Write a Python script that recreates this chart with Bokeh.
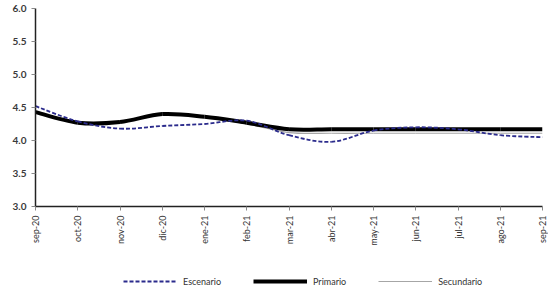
import numpy as np
from bokeh.plotting import figure
from bokeh.layouts import column
from bokeh.models import Range1d, Legend, LegendItem, ColumnDataSource, FixedTicker
from bokeh.embed import file_html
from bokeh.resources import INLINE

months = ["sep-20", "oct-20", "nov-20", "dic-20", "ene-21", "feb-21", "mar-21",
          "abr-21", "may-21", "jun-21", "jul-21", "ago-21", "sep-21"]
escenario = [4.52, 4.29, 4.18, 4.22, 4.25, 4.30, 4.08, 3.98, 4.15, 4.20, 4.17, 4.08, 4.05]
primario = [4.43, 4.27, 4.28, 4.40, 4.36, 4.27, 4.17, 4.17, 4.17, 4.17, 4.17, 4.17, 4.17]
secundario = [4.43, 4.27, 4.28, 4.40, 4.36, 4.25, 4.12, 4.11, 4.11, 4.11, 4.11, 4.11, 4.11]
y_ticks = [3.0, 3.5, 4.0, 4.5, 5.0, 5.5, 6.0]

FONT = "Lato"

p = figure(width=548, height=260, output_backend="svg", toolbar_location=None,
           x_range=Range1d(0, len(months) - 1), y_range=Range1d(3.0, 6.0),
           min_border_left=35, min_border_top=8, min_border_right=6, min_border_bottom=54)
p.outline_line_color = None
p.xgrid.grid_line_color = None
p.ygrid.grid_line_color = None


def smooth_source(vals):
    xs = np.arange(len(vals), dtype=float)
    ys = np.array(vals, dtype=float)
    n = len(vals)
    d = dict(x0=[], y0=[], x1=[], y1=[], cx0=[], cy0=[], cx1=[], cy1=[])
    for i in range(n - 1):
        im1 = max(i - 1, 0)
        ip2 = min(i + 2, n - 1)
        d["x0"].append(xs[i]); d["y0"].append(ys[i])
        d["x1"].append(xs[i + 1]); d["y1"].append(ys[i + 1])
        d["cx0"].append(xs[i] + (xs[i + 1] - xs[im1]) / 6.0)
        d["cy0"].append(ys[i] + (ys[i + 1] - ys[im1]) / 6.0)
        d["cx1"].append(xs[i + 1] - (xs[ip2] - xs[i]) / 6.0)
        d["cy1"].append(ys[i + 1] - (ys[ip2] - ys[i]) / 6.0)
    return ColumnDataSource(d)


styles = {
    "Secundario": dict(line_color="#a6a6a6", line_width=1.2, line_dash="solid"),
    "Primario": dict(line_color="#000000", line_width=4, line_dash="solid"),
    "Escenario": dict(line_color="#2b2b8c", line_width=1.8, line_dash="4 2"),
}
series = {"Secundario": secundario, "Primario": primario, "Escenario": escenario}

for name in ["Secundario", "Primario", "Escenario"]:
    src = smooth_source(series[name])
    p.bezier(x0="x0", y0="y0", x1="x1", y1="y1", cx0="cx0", cy0="cy0",
             cx1="cx1", cy1="cy1", source=src, **styles[name])

# axes
p.xaxis.ticker = FixedTicker(ticks=list(range(len(months))))
p.xaxis.major_label_overrides = {i: m for i, m in enumerate(months)}
p.xaxis.major_label_orientation = np.pi / 2
p.xaxis.major_label_text_font = FONT
p.xaxis.major_label_text_font_size = "9px"
p.xaxis.major_label_text_color = "#333333"
p.xaxis.major_tick_in = 0
p.xaxis.major_tick_out = 4
p.xaxis.minor_tick_line_color = None
p.xaxis.axis_line_width = 1.5
p.xaxis.axis_line_color = "#222222"
p.xaxis.major_tick_line_color = "#888888"

p.yaxis.ticker = FixedTicker(ticks=y_ticks)
p.yaxis.major_label_overrides = {t: f"{t:.1f}" for t in y_ticks}
p.yaxis.major_label_text_font = FONT
p.yaxis.major_label_text_font_size = "10px"
p.yaxis.major_label_text_font_style = "bold"
p.yaxis.major_label_text_color = "#3a3a3a"
p.yaxis.major_tick_in = 0
p.yaxis.major_tick_out = 4
p.yaxis.minor_tick_line_color = None
p.yaxis.axis_line_width = 1.5
p.yaxis.axis_line_color = "#222222"
p.yaxis.major_tick_line_color = "#888888"

# legend strip
lg = figure(width=548, height=30, output_backend="svg", toolbar_location=None,
            x_range=Range1d(0, 1), y_range=Range1d(0, 1),
            x_axis_type=None, y_axis_type=None, min_border=0)
lg.outline_line_color = None
lg.xgrid.grid_line_color = None
lg.ygrid.grid_line_color = None
legend_renderers = {}
for name in ["Escenario", "Primario", "Secundario"]:
    legend_renderers[name] = lg.line(x=[float("nan")], y=[float("nan")], **styles[name])

legend = Legend(items=[LegendItem(label=n, renderers=[legend_renderers[n]])
                       for n in ["Escenario", "Primario", "Secundario"]],
                orientation="horizontal", location=(88, 3),
                glyph_width=54, glyph_height=12, label_height=12,
                label_standoff=6, spacing=32, padding=0,
                border_line_color=None, background_fill_alpha=0,
                label_text_font=FONT, label_text_font_size="9px",
                label_text_color="#333333", margin=0)
lg.add_layout(legend, "center")

layout = column(p, lg, spacing=0)
open("out.html", "w").write(file_html(layout, INLINE))
